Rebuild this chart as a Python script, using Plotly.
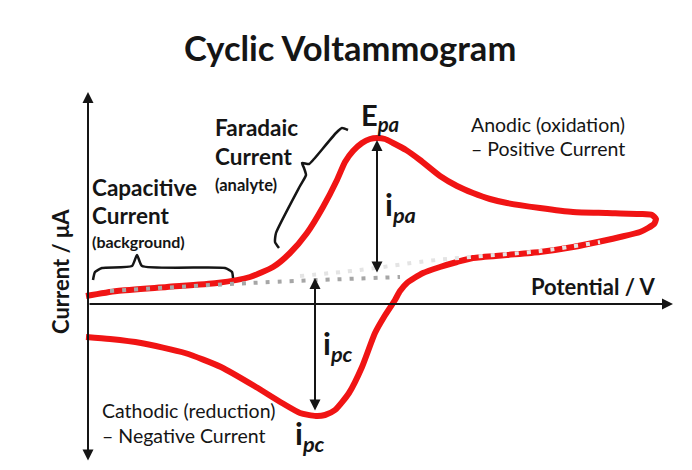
import plotly.graph_objects as go

# Cyclic voltammogram loop (potential units, current units; origin at the axis crossing)
potential = [-2, 29, 79, 129, 162, 185, 202, 219, 235, 249, 257, 265, 274, 282, 289, 297, 305,
             318, 332, 352, 369, 385, 402, 419, 452, 485, 519, 552, 564, 568, 566, 560, 552, 532,
             519, 485, 452, 419, 385, 369, 352, 335, 319, 312, 307, 296, 287, 274, 261, 247, 237,
             228, 212, 194, 168, 133, 97, 53, 22, -2]
current = [8, 13, 17, 21, 27, 37, 51, 71, 97, 124, 142, 153, 161, 165, 166, 165, 161,
           154, 144, 128, 118, 111, 105, 101, 96, 92, 91, 90, 89, 85, 80, 76, 72, 67,
           64, 57, 52, 49, 46, 42, 37, 31, 21, 13, 4, -13, -29, -63, -89, -106, -111,
           -112, -109, -99, -83, -63, -49, -39, -35, -33]

# Extrapolated background (dotted)
base_x = [22, 162, 312]
base_y = [13, 21, 27]
base2_x = [212, 272, 339, 382, 452, 512]
base2_y = [28, 34, 43, 47, 53, 62]

# Braces
cap_brace_x = [5, 7, 14, 44, 49, 54, 137, 144, 145]
cap_brace_y = [24, 32, 36, 38, 49, 38, 36, 32, 26]
far_brace_x = [191, 187, 188, 212, 218, 216, 214, 221, 226, 248, 254, 260]
far_brace_y = [56, 62, 71, 118, 129, 136, 141, 140, 145, 171, 176, 174]

# Peak markers
E_pa = 289
i_pa_top, i_pa_bottom = 164, 30
E_pc = 227
i_pc_top, i_pc_bottom = 26, -108

INK = "#151515"
FONT = "Lato"

fig = go.Figure()
fig.add_trace(go.Scatter(x=potential, y=current, mode="lines",
                         line=dict(color="#f01414", width=6, shape="spline", smoothing=0.6),
                         hoverinfo="skip"))
fig.add_trace(go.Scatter(x=base2_x, y=base2_y, mode="lines",
                         line=dict(color="#e4e4e4", width=4, dash="4px,8px", shape="spline"),
                         hoverinfo="skip"))
fig.add_trace(go.Scatter(x=base_x, y=base_y, mode="lines",
                         line=dict(color="#a6a6a6", width=4, dash="4px,8px", shape="spline"),
                         hoverinfo="skip"))
fig.add_trace(go.Scatter(x=cap_brace_x, y=cap_brace_y, mode="lines",
                         line=dict(color=INK, width=2.5, shape="spline", smoothing=0.5),
                         hoverinfo="skip"))
fig.add_trace(go.Scatter(x=far_brace_x, y=far_brace_y, mode="lines",
                         line=dict(color=INK, width=2.5, shape="spline", smoothing=0.5),
                         hoverinfo="skip"))

ann = []

def arrow(x0, y0, x1, y1, both=False):
    ann.append(dict(x=x1, y=y1, ax=x0, ay=y0, xref="x", yref="y", axref="x", ayref="y",
                    text="", showarrow=True, arrowhead=2, arrowsize=1.1, arrowwidth=2,
                    arrowcolor=INK, standoff=0, startstandoff=0,
                    arrowside="end+start" if both else "end", startarrowhead=2,
                    startarrowsize=1.1))

arrow(0, -158, 0, 212, both=True)      # current axis
arrow(0, 0, 585, 0)                    # potential axis
arrow(E_pa, i_pa_bottom, E_pa, i_pa_top, both=True)
arrow(E_pc, i_pc_bottom, E_pc, i_pc_top, both=True)

def label(x, y, text, size, anchor="left", bold=True, angle=0):
    ann.append(dict(x=x, y=y, xref="x", yref="y", text=f"<b>{text}</b>" if bold else text,
                    showarrow=False, xanchor=anchor, yanchor="middle", align="left",
                    textangle=angle, font=dict(family=FONT, size=size, color=INK)))

label(262, 257, "Cyclic Voltammogram", 34.5, anchor="center")
label(-28, 32, "Current / μA", 22, anchor="center", angle=-90)
label(441, 18, "Potential / V", 22)
label(125, 177, "Faradaic", 22.5)
label(125, 148, "Current", 22.5)
label(125, 119, "(analyte)", 16.5)
label(2, 117, "Capacitive", 22.5)
label(2, 89, "Current", 22.5)
label(2, 63, "(background)", 16)
label(271, 188, "E<sub><i>pa</i></sub>", 29)
label(295, 98, "i<sub><i>pa</i></sub>", 31)
label(233, -41, "i<sub><i>pc</i></sub>", 31)
label(205, -131, "i<sub><i>pc</i></sub>", 31)
label(381, 180, "Anodic (oxidation)", 19.5, bold=False)
label(381, 156, "– Positive Current", 19.5, bold=False)
label(12, -106, "Cathodic (reduction)", 19.5, bold=False)
label(12, -131, "– Negative Current", 19.5, bold=False)

fig.update_layout(
    width=684, height=462,
    margin=dict(l=0, r=0, t=0, b=0),
    paper_bgcolor="white", plot_bgcolor="white",
    showlegend=False,
    xaxis=dict(range=[-80, 604], visible=False, fixedrange=True),
    yaxis=dict(range=[-166, 296], visible=False, fixedrange=True),
    annotations=ann,
)

fig.write_html("out.html")
